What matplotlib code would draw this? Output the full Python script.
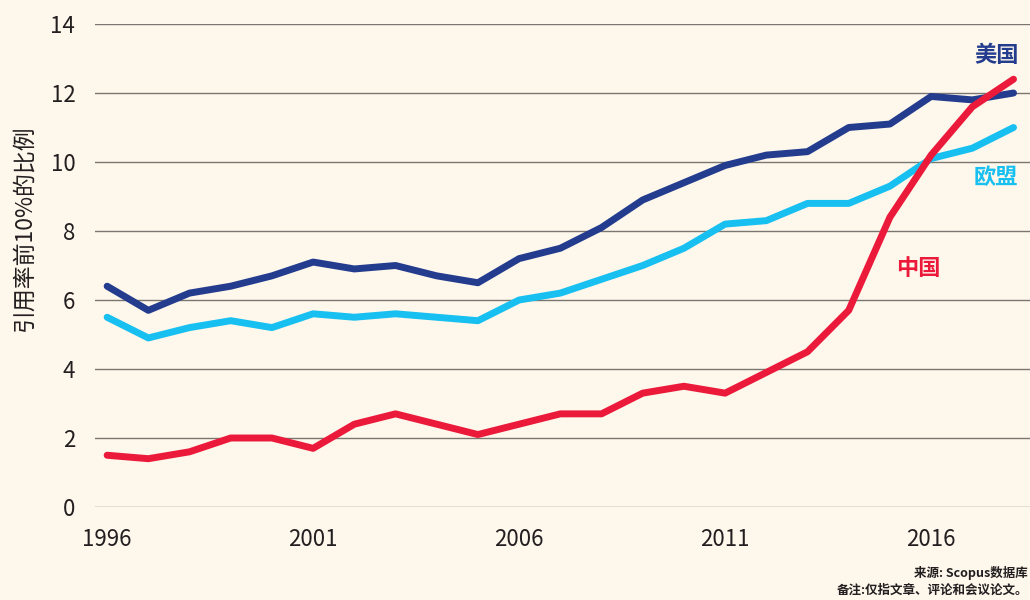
import numpy as np
import matplotlib.pyplot as plt

plt.rcParams['font.family'] = ['Noto Sans CJK SC', 'DejaVu Sans']

years = list(range(1996, 2019))
usa = [6.4, 5.7, 6.2, 6.4, 6.7, 7.1, 6.9, 7.0, 6.7, 6.5, 7.2, 7.5, 8.1, 8.9,
       9.4, 9.9, 10.2, 10.3, 11.0, 11.1, 11.9, 11.8, 12.0]
eu = [5.5, 4.9, 5.2, 5.4, 5.2, 5.6, 5.5, 5.6, 5.5, 5.4, 6.0, 6.2, 6.6, 7.0,
      7.5, 8.2, 8.3, 8.8, 8.8, 9.3, 10.1, 10.4, 11.0]
china = [1.5, 1.4, 1.6, 2.0, 2.0, 1.7, 2.4, 2.7, 2.4, 2.1, 2.4, 2.7, 2.7, 3.3,
         3.5, 3.3, 3.9, 4.5, 5.7, 8.4, 10.2, 11.6, 12.4]
xticks = [1996, 2001, 2006, 2011, 2016]
yticks = [0, 2, 4, 6, 8, 10, 12, 14]

bg = '#fdf7ec'
txt = '#231f20'
c_us = '#233c8e'
c_eu = '#17c0f0'
c_cn = '#ec1a3a'

fig = plt.figure(figsize=(10.3, 6), dpi=100, facecolor=bg)
ax = fig.add_axes([0.092, 0.155, 0.908, 0.805], facecolor=bg)

for y in yticks:
    ax.axhline(y, color='#7a7670', lw=1.0, zorder=1)

ax.plot(years, eu, color=c_eu, lw=5, solid_capstyle='round', zorder=3, clip_on=False)
ax.plot(years, usa, color=c_us, lw=5, solid_capstyle='round', zorder=4, clip_on=False)
ax.plot(years, china, color=c_cn, lw=5, solid_capstyle='round', zorder=5, clip_on=False)

ax.set_xlim(1995.7, 2018.4)
ax.set_ylim(0, 14)
ax.set_xticks(xticks)
ax.set_yticks(yticks)
ax.tick_params(length=0, labelsize=16, colors=txt)
ax.tick_params(axis='y', pad=14)
ax.tick_params(axis='x', pad=15)
for s in ax.spines.values():
    s.set_visible(False)

ax.set_ylabel('引用率前10%的比例', fontsize=16.5, color=txt)
ax.yaxis.set_label_coords(-0.063, 0.578)

ax.text(2017.58, 13.1, '美国', color=c_us, fontsize=16, fontweight='bold', ha='center', va='center')
ax.text(2017.58, 9.55, '欧盟', color=c_eu, fontsize=16, fontweight='bold', ha='center', va='center')
ax.text(2015.7, 6.9, '中国', color=c_cn, fontsize=16, fontweight='bold', ha='center', va='center')

fig.text(0.998, 0.045, '来源: Scopus数据库', fontsize=9, fontweight='bold', color=txt, ha='right', va='center')
fig.text(0.998, 0.016, '备注:仅指文章、评论和会议论文。', fontsize=9, fontweight='bold', color=txt, ha='right', va='center')

fig.savefig('out.png', dpi=100, facecolor=bg)
